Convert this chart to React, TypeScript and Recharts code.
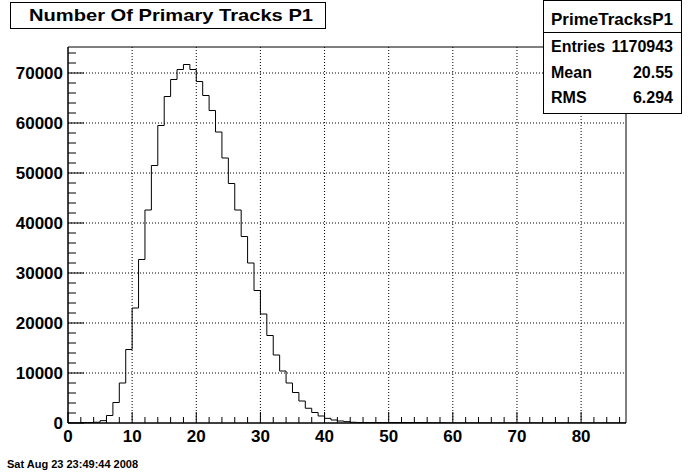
import React from "react";
import { LineChart, Line, XAxis, YAxis, ReferenceLine, ReferenceArea } from "recharts";

// PrimeTracksP1: counts per unit-width bin, bins [0,1) ... [86,87)
const counts = [
  0, 0, 100, 100, 150, 470, 1500, 4100, 8000, 14700,
  23000, 32700, 42600, 51500, 59500, 65300, 68700, 70700, 71700, 70700,
  68300, 65500, 62500, 58200, 53000, 47900, 42600, 37300, 32000, 26500,
  21800, 17500, 13600, 10400, 8000, 6100, 4400, 2950, 2100, 1400,
  930, 600, 400, 270, 150, 100, 100, 100, 100, 100,
  100, 100, 100, 100, 100, 100, 40, 40, 40, 0,
  0, 0, 0, 0, 0, 0, 0, 0, 0, 0,
  0, 0, 0, 0, 0, 0, 0, 0, 0, 0,
  0, 0, 0, 0, 0, 0, 0,
];

const xMax = 87;
const yMax = 75200;
const xMajor = [10, 20, 30, 40, 50, 60, 70, 80];
const yMajor = [10000, 20000, 30000, 40000, 50000, 60000, 70000];
const xTicks = Array.from({ length: 44 }, (_, i) => i * 2);
const yTicks = Array.from({ length: 38 }, (_, i) => i * 2000);

const title = "Number Of Primary Tracks P1";
const statsName = "PrimeTracksP1";
const statsRows = [
  ["Entries", "1170943"],
  ["Mean", "20.55"],
  ["RMS", "6.294"],
];
const dateText = "Sat Aug 23 23:49:44 2008";

// step outline: one point per low edge, plus the closing edge
const data = counts.map((n, i) => ({ x: i, n }));
data.push({ x: xMax, n: counts[counts.length - 1] });

const font = "'Liberation Sans', Arial, Helvetica, sans-serif";

function XTick(props: any) {
  const { x, y, payload } = props;
  const axisY = y - 4;
  const major = payload.value % 10 === 0;
  return (
    <g>
      <line x1={x} x2={x} y1={axisY} y2={axisY - (major ? 11 : 6)} stroke="#000" />
      {major && (
        <text x={x} y={axisY + 19} textAnchor="middle" fontFamily={font} fontWeight="bold" fontSize={17} fill="#000">
          {payload.value}
        </text>
      )}
    </g>
  );
}

function YTick(props: any) {
  const { x, y, payload } = props;
  const axisX = x + 4;
  const major = payload.value % 10000 === 0;
  return (
    <g>
      <line x1={axisX} x2={axisX + (major ? 16 : 8)} y1={y} y2={y} stroke="#000" />
      {major && (
        <text x={axisX - 5} y={y + 6} textAnchor="end" fontFamily={font} fontWeight="bold" fontSize={17} fill="#000">
          {payload.value}
        </text>
      )}
    </g>
  );
}

export default function App() {
  return (
    <div style={{ position: "absolute", left: 0, top: 0, width: 696, height: 472, background: "#fff" }}>
      <LineChart width={696} height={472} data={data} margin={{ top: 47, right: 70, bottom: 0, left: 0 }}>
        <XAxis
          dataKey="x"
          type="number"
          domain={[0, xMax]}
          ticks={xTicks}
          interval={0}
          tickSize={0}
          tickMargin={4}
          tick={<XTick />}
          axisLine={{ stroke: "#000" }}
          height={49}
        />
        <YAxis
          type="number"
          domain={[0, yMax]}
          ticks={yTicks}
          interval={0}
          tickSize={0}
          tickMargin={4}
          tick={<YTick />}
          axisLine={{ stroke: "#000" }}
          width={68}
          allowDataOverflow
        />
        {xMajor.map((v) => (
          <ReferenceLine key={"x" + v} x={v} stroke="#000" strokeDasharray="1 2" />
        ))}
        {yMajor.map((v) => (
          <ReferenceLine key={"y" + v} y={v} stroke="#000" strokeDasharray="1 2" />
        ))}
        <ReferenceArea x1={0} x2={xMax} y1={0} y2={yMax} fill="none" fillOpacity={0} stroke="#000" strokeOpacity={1} />
        <Line
          type="stepAfter"
          dataKey="n"
          stroke="#000"
          strokeWidth={1}
          dot={false}
          activeDot={false}
          isAnimationActive={false}
        />
      </LineChart>
      <svg width={696} height={472} style={{ position: "absolute", left: 0, top: 0, pointerEvents: "none" }}>
        <rect x={10.5} y={2.5} width={315} height={26} fill="#fff" stroke="#000" />
        <text x={29} y={21} textLength={284} lengthAdjust="spacingAndGlyphs" fontFamily={font} fontWeight="bold" fontSize={17} fill="#000">
          {title}
        </text>
        <rect x={543.5} y={0.5} width={138} height={113} fill="#fff" stroke="#000" />
        <line x1={543.5} x2={681.5} y1={32.5} y2={32.5} stroke="#000" />
        <text x={612} y={25} textAnchor="middle" fontFamily={font} fontWeight="bold" fontSize={17} fill="#000">
          {statsName}
        </text>
        {statsRows.map(([k, v], i) => (
          <g key={k}>
            <text x={551} y={52 + i * 25.5} fontFamily={font} fontWeight="bold" fontSize={16} fill="#000">
              {k}
            </text>
            <text x={673} y={52 + i * 25.5} textAnchor="end" fontFamily={font} fontWeight="bold" fontSize={16} fill="#000">
              {v}
            </text>
          </g>
        ))}
        <text x={7} y={468} fontFamily={font} fontWeight="bold" fontSize={11} fill="#000">
          {dateText}
        </text>
      </svg>
    </div>
  );
}
